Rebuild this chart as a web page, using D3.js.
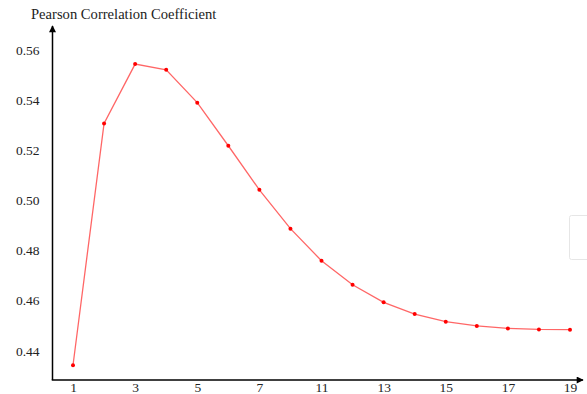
<!DOCTYPE html>
<html>
<head>
<meta charset="utf-8">
<script src="https://cdn.jsdelivr.net/npm/d3@7"></script>
<style>
  html, body { margin: 0; padding: 0; background: #fff; }
  svg { display: block; }
  svg text { font-family: "Liberation Serif", "Times New Roman", serif !important; }
</style>
</head>
<body>
<svg id="chart" width="587" height="394"></svg>
<script>
// Window size (x axis categories)
const categories = ["1", "2", "3", "4", "5", "6", "7", "9", "11", "12", "13", "14", "15", "16", "17", "18", "19"];
// Pearson correlation coefficient for each window size
const pearson = [0.4342, 0.5307, 0.5544, 0.5521, 0.5390, 0.5218, 0.5042, 0.4887, 0.4759,
                 0.4663, 0.4593, 0.4546, 0.4516, 0.4499, 0.4489, 0.4485, 0.4484];
// Labels shown on the axes
const xTickLabels = ["1", "3", "5", "7", "11", "13", "15", "17", "19"];
const yTickValues = [0.44, 0.46, 0.48, 0.50, 0.52, 0.54, 0.56];
const yTitle = "Pearson Correlation Coefficient";

const svg = d3.select("#chart");

const plot = { left: 52.5, right: 583, top: 26, bottom: 380 };

const x = d3.scalePoint()
  .domain(categories)
  .range([73, 570]);

const y = d3.scaleLinear()
  .domain([0.4283, 0.5696])
  .range([plot.bottom, plot.top]);

// Arrow head marker for the axis lines
svg.append("defs").append("marker")
  .attr("id", "arrow")
  .attr("viewBox", "0 0 10 10")
  .attr("refX", 9).attr("refY", 5)
  .attr("markerWidth", 9).attr("markerHeight", 7)
  .attr("markerUnits", "userSpaceOnUse")
  .attr("orient", "auto")
  .append("path")
  .attr("d", "M0,0 L10,5 L0,10 Z")
  .attr("fill", "#000");

// Y axis (labels only, no tick marks)
const yAxis = d3.axisLeft(y)
  .tickValues(yTickValues)
  .tickFormat(d3.format(".2f"))
  .tickSize(0)
  .tickPadding(13);
const gy = svg.append("g")
  .attr("transform", `translate(${plot.left},0)`)
  .call(yAxis)
  .attr("font-family", null)
  .attr("font-size", 13.5);
gy.select(".domain").remove();
gy.selectAll("text").attr("fill", "#222");

// X axis (every other category labelled)
const xAxis = d3.axisBottom(x)
  .tickValues(xTickLabels)
  .tickSize(0)
  .tickPadding(2);
const gx = svg.append("g")
  .attr("transform", `translate(0,${plot.bottom})`)
  .call(xAxis)
  .attr("font-family", null)
  .attr("font-size", 13.5);
gx.select(".domain").remove();
gx.selectAll("text").attr("fill", "#222");

// Axis lines with arrows
svg.append("line")
  .attr("x1", plot.left).attr("y1", plot.bottom)
  .attr("x2", plot.left).attr("y2", plot.top)
  .attr("stroke", "#000").attr("stroke-width", 1.5)
  .attr("marker-end", "url(#arrow)");
svg.append("line")
  .attr("x1", plot.left - 0.75).attr("y1", plot.bottom)
  .attr("x2", plot.right).attr("y2", plot.bottom)
  .attr("stroke", "#000").attr("stroke-width", 1.5)
  .attr("marker-end", "url(#arrow)");

// Y axis title
svg.append("text")
  .attr("x", 31).attr("y", 19)
  .attr("font-size", 14.6)
  .attr("fill", "#222")
  .text(yTitle);

// Series line
const line = d3.line()
  .x((d, i) => x(categories[i]))
  .y(d => y(d));
svg.append("path")
  .datum(pearson)
  .attr("d", line)
  .attr("fill", "none")
  .attr("stroke", "#ff0000")
  .attr("stroke-opacity", 0.6)
  .attr("stroke-width", 1.3);

// Points
svg.append("g")
  .selectAll("circle")
  .data(pearson)
  .join("circle")
  .attr("cx", (d, i) => x(categories[i]))
  .attr("cy", d => y(d))
  .attr("r", 2)
  .attr("fill", "#ff0000");

// Legend frame, partly outside the view on the right
svg.append("rect")
  .attr("x", 569.5).attr("y", 215.5)
  .attr("width", 30).attr("height", 44)
  .attr("rx", 2)
  .attr("fill", "#fff")
  .attr("stroke", "#e6e6e6");
</script>
</body>
</html>
